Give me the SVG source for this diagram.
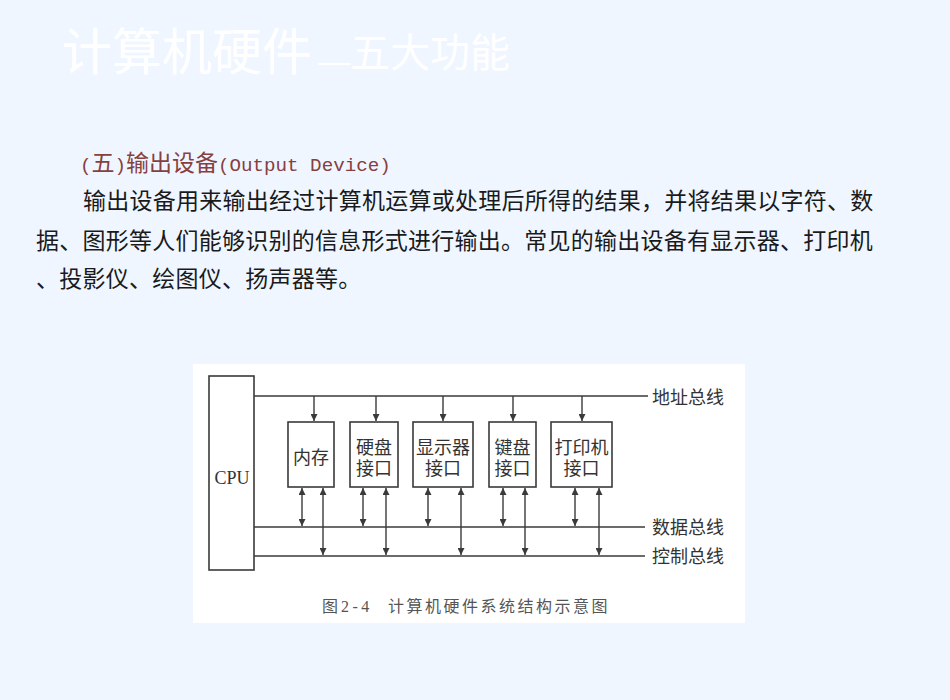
<svg xmlns="http://www.w3.org/2000/svg" width="950" height="700" viewBox="0 0 950 700">
<defs>
<style>
.cjk{font-family:"Noto Sans CJK SC","Noto Sans",sans-serif;}
.para{font-size:23px;fill:#1a1a1a;letter-spacing:0.25px;}
.head{font-size:23px;fill:#86403f;}
.mono{font-family:"Liberation Mono",monospace;font-size:19.2px;fill:#86403f;}
.box{fill:#fff;stroke:#3a3a3a;stroke-width:1.6;}
.bus{stroke:#3a3a3a;stroke-width:1.6;fill:none;}
.arr{stroke:#3a3a3a;stroke-width:1.4;fill:none;}
.lbl{font-size:18px;fill:#333;text-anchor:middle;}
.bl{font-size:18px;fill:#333;}
</style>
<marker id="ah" viewBox="0 0 10 10" refX="10" refY="5" markerWidth="7" markerHeight="7" markerUnits="userSpaceOnUse" orient="auto-start-reverse">
<path d="M0,0 L10,5 L0,10 z" fill="#3a3a3a"/>
</marker>
</defs>
<rect x="0" y="0" width="950" height="700" fill="#f0f6ff"/>
<g id="title">
<text class="cjk" x="62" y="70" font-size="50" fill="#ffffff">计算机硬件</text>
<text x="318" y="72" font-family="Liberation Sans, sans-serif" font-size="32" fill="#ffffff">—</text>
<text class="cjk" x="350" y="67" font-size="40" fill="#ffffff">五大功能</text>
</g>
<g id="text">
<text y="170.5"><tspan class="mono" x="80">(</tspan><tspan class="cjk head" x="91.5">五</tspan><tspan class="mono" x="114.5">)</tspan><tspan class="cjk head" x="126">输出设备</tspan><tspan class="mono" x="218">(Output Device)</tspan></text>
<text class="cjk para" x="83" y="208.5">输出设备用来输出经过计算机运算或处理后所得的结果，并将结果以字符、数</text>
<text class="cjk para" x="36" y="248.5">据、图形等人们能够识别的信息形式进行输出。常见的输出设备有显示器、打印机</text>
<text class="cjk para" x="36" y="286.5">、投影仪、绘图仪、扬声器等。</text>
</g>
<rect id="panel" x="193" y="364" width="552" height="259" fill="#ffffff"/>
<g id="cpu">
<rect class="box" x="209" y="376" width="45" height="194"/>
<text x="232" y="484" font-family="Liberation Serif, serif" font-size="18" fill="#333" text-anchor="middle">CPU</text>
</g>
<g id="mem">
<rect class="box" x="288" y="422" width="46" height="65"/>
<text class="cjk lbl" x="311" y="463.5" font-size="19">内存</text>
</g>
<g id="hdd">
<rect class="box" x="350" y="422" width="48" height="65"/>
<text class="cjk lbl" x="374" y="453.5">硬盘<tspan x="374" dy="21">接口</tspan></text>
</g>
<g id="display">
<rect class="box" x="413" y="422" width="60" height="65"/>
<text class="cjk lbl" x="443" y="453.5">显示器<tspan x="443" dy="21">接口</tspan></text>
</g>
<g id="keyboard">
<rect class="box" x="489" y="422" width="47" height="65"/>
<text class="cjk lbl" x="512.5" y="453.5">键盘<tspan x="512.5" dy="21">接口</tspan></text>
</g>
<g id="printer">
<rect class="box" x="551" y="422" width="61" height="65"/>
<text class="cjk lbl" x="581.5" y="453.5">打印机<tspan x="581.5" dy="21">接口</tspan></text>
</g>
<g id="connectors">
<line class="bus" x1="254" y1="396" x2="648" y2="396"/>
<line class="bus" x1="254" y1="527" x2="645" y2="527"/>
<line class="bus" x1="254" y1="556" x2="645" y2="556"/>
<line class="arr" x1="314" y1="396" x2="314" y2="421" marker-end="url(#ah)"/>
<line class="arr" x1="376" y1="396" x2="376" y2="421" marker-end="url(#ah)"/>
<line class="arr" x1="443" y1="396" x2="443" y2="421" marker-end="url(#ah)"/>
<line class="arr" x1="513" y1="396" x2="513" y2="421" marker-end="url(#ah)"/>
<line class="arr" x1="582" y1="396" x2="582" y2="421" marker-end="url(#ah)"/>
<line class="arr" x1="302" y1="488" x2="302" y2="526" marker-start="url(#ah)" marker-end="url(#ah)"/>
<line class="arr" x1="363" y1="488" x2="363" y2="526" marker-start="url(#ah)" marker-end="url(#ah)"/>
<line class="arr" x1="428" y1="488" x2="428" y2="526" marker-start="url(#ah)" marker-end="url(#ah)"/>
<line class="arr" x1="503" y1="488" x2="503" y2="526" marker-start="url(#ah)" marker-end="url(#ah)"/>
<line class="arr" x1="575" y1="488" x2="575" y2="526" marker-start="url(#ah)" marker-end="url(#ah)"/>
<line class="arr" x1="323" y1="488" x2="323" y2="555" marker-start="url(#ah)" marker-end="url(#ah)"/>
<line class="arr" x1="386" y1="488" x2="386" y2="555" marker-start="url(#ah)" marker-end="url(#ah)"/>
<line class="arr" x1="461" y1="488" x2="461" y2="555" marker-start="url(#ah)" marker-end="url(#ah)"/>
<line class="arr" x1="525" y1="488" x2="525" y2="555" marker-start="url(#ah)" marker-end="url(#ah)"/>
<line class="arr" x1="599" y1="488" x2="599" y2="555" marker-start="url(#ah)" marker-end="url(#ah)"/>
</g>
<g id="bus-labels">
<text class="cjk bl" x="652" y="404">地址总线</text>
<text class="cjk bl" x="652" y="534">数据总线</text>
<text class="cjk bl" x="652" y="563">控制总线</text>
</g>
<g id="caption">
<text class="cjk" x="322" y="612" font-size="16" fill="#555">图</text>
<text x="341" y="612" font-family="Liberation Serif, serif" font-size="16" fill="#555" letter-spacing="3.5">2-4</text>
<text class="cjk" x="388" y="612" font-size="16" fill="#555" letter-spacing="2.5">计算机硬件系统结构示意图</text>
</g>
</svg>
